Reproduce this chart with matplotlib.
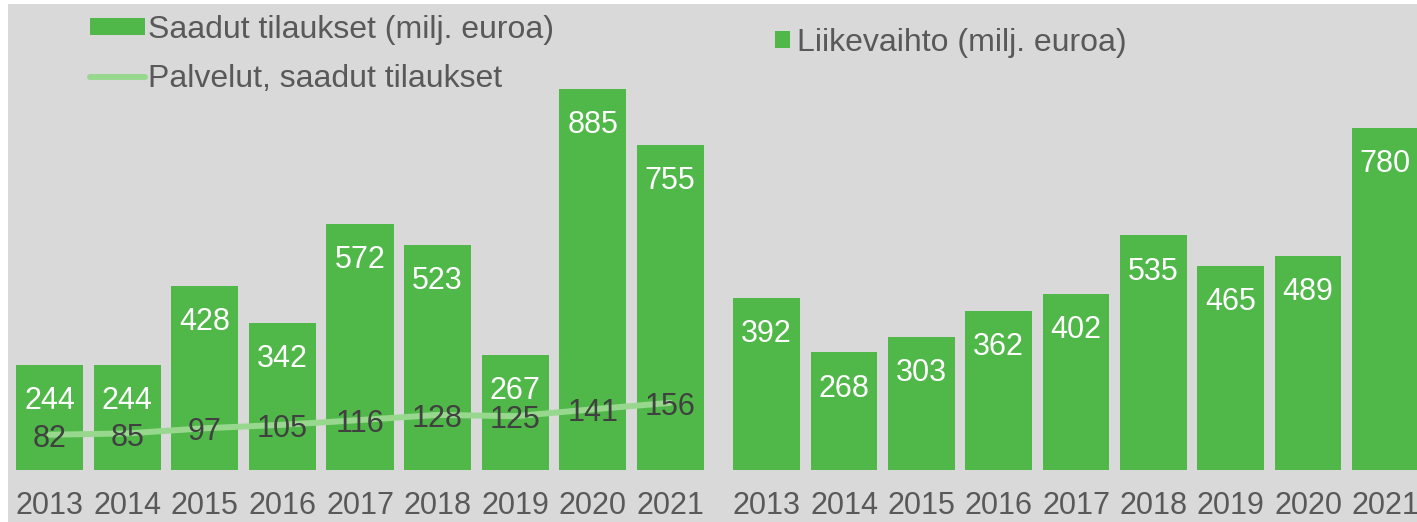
import matplotlib.pyplot as plt
from matplotlib.patches import Rectangle, Patch
from matplotlib.lines import Line2D
import numpy as np

plt.rcParams['font.family'] = ['Liberation Sans', 'DejaVu Sans']

years = ['2013', '2014', '2015', '2016', '2017', '2018', '2019', '2020', '2021']
orders = [244, 244, 428, 342, 572, 523, 267, 885, 755]
services = [82, 85, 97, 105, 116, 128, 125, 141, 156]
revenue = [392, 268, 303, 362, 402, 535, 465, 489, 780]

bar_color = '#50b848'
line_color = '#98d88e'
text_gray = '#595959'
dark = '#404040'

W, H = 1417, 522
fig = plt.figure(figsize=(W / 100, H / 100), dpi=100)
fig.patch.set_facecolor('white')
fig.patches.append(Rectangle((8 / W, 0), 1, (H - 4) / H, transform=fig.transFigure,
                             facecolor='#d9d9d9', edgecolor='none', zorder=-10))

x = np.arange(len(years))
bottom = 52 / H
height = 466 / H


def setup(ax):
    ax.set_facecolor('none')
    for s in ax.spines.values():
        s.set_visible(False)
    ax.set_yticks([])
    ax.set_xticks(x)
    ax.set_xticklabels(years, fontsize=22, color=text_gray)
    ax.tick_params(axis='x', length=0, pad=15)
    ax.set_xlim(-0.5, len(years) - 0.5)


def bar_labels(ax, vals):
    for xi, v in zip(x, vals):
        ax.annotate(str(v), (xi, v), xytext=(0, -26), textcoords='offset points',
                    ha='center', va='center', color='white', fontsize=22)


# left: saadut tilaukset
ax1 = fig.add_axes([11 / W, bottom, 698 / W, height])
setup(ax1)
ax1.bar(x, orders, width=0.865, color=bar_color)
ax1.set_ylim(0, 466 / (381 / 885))
bar_labels(ax1, orders)
ax1.plot(x, services, color=line_color, lw=4.3, solid_capstyle='round', zorder=3)
for xi, v in zip(x, services):
    ax1.annotate(str(v), (xi, v), xytext=(0, -3), textcoords='offset points',
                 ha='center', va='center', color=dark, fontsize=22, zorder=4)

h1 = [Patch(facecolor=bar_color, edgecolor='none'),
      Line2D([], [], color=line_color, lw=4.3, solid_capstyle='round')]
leg1 = ax1.legend(h1, ['Saadut tilaukset (milj. euroa)', 'Palvelut, saadut tilaukset'],
                  loc='upper left', bbox_to_anchor=(90 / W, 1 - 15 / H),
                  bbox_transform=fig.transFigure, frameon=False, fontsize=23,
                  handlelength=1.72, handleheight=0.44, handletextpad=0.1,
                  labelspacing=0.59, borderaxespad=0, borderpad=0)
for t in leg1.get_texts():
    t.set_color(text_gray)

# right: liikevaihto
ax2 = fig.add_axes([728 / W, bottom, 696 / W, height])
setup(ax2)
ax2.bar(x, revenue, width=0.865, color=bar_color)
ax2.set_ylim(0, 466 / (342 / 780))
bar_labels(ax2, revenue)
leg2 = ax2.legend([Patch(facecolor=bar_color, edgecolor='none')], ['Liikevaihto (milj. euroa)'],
                  loc='upper left', bbox_to_anchor=(775 / W, 1 - 28 / H),
                  bbox_transform=fig.transFigure, frameon=False, fontsize=23,
                  handlelength=0.47, handleheight=0.47, handletextpad=0.22,
                  borderaxespad=0, borderpad=0)
for t in leg2.get_texts():
    t.set_color(text_gray)

fig.savefig('out.png', dpi=100, facecolor=fig.get_facecolor())
